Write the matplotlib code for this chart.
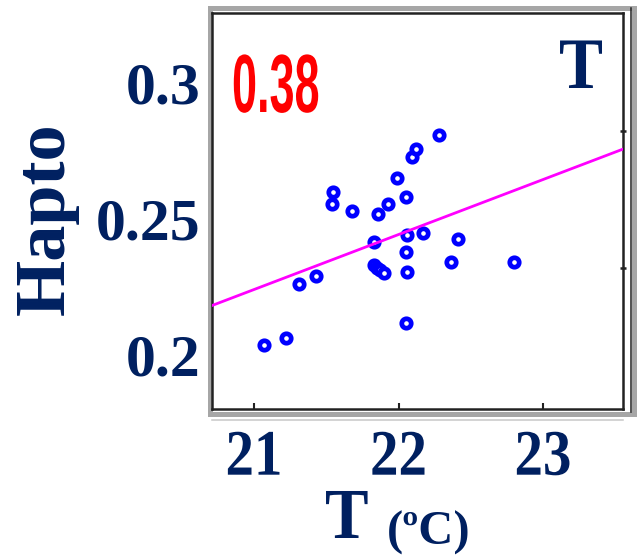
import matplotlib
matplotlib.use("Agg")
import matplotlib.pyplot as plt
import matplotlib.patheffects as pe
from matplotlib.transforms import Affine2D
from matplotlib.patches import Rectangle
from matplotlib.lines import Line2D
import numpy as np

# ---------------- data ----------------
temp = [21.07, 21.22, 21.31, 21.43, 21.54, 21.55, 21.68, 21.86, 21.93, 21.99,
        22.05, 22.09, 22.12, 22.28, 21.83, 22.06, 22.05, 22.17, 22.41, 22.36,
        22.80, 22.06, 22.05, 21.83, 21.85, 21.87, 21.90]
hapto = [0.2038, 0.2065, 0.2262, 0.2290, 0.2556, 0.2600, 0.2532, 0.2518, 0.2558, 0.2651,
         0.2583, 0.2730, 0.2760, 0.2810, 0.2415, 0.2442, 0.2381, 0.2449, 0.2426, 0.2344,
         0.2344, 0.2306, 0.2120, 0.2332, 0.2321, 0.2314, 0.2303]
fit_slope = 0.0202
fit_intercept = -0.2000
r_text = "0.38"
panel_text = "T"
x_ticks = [21, 22, 23]
x_tick_labels = ["21", "22", "23"]
y_ticks = [0.2, 0.25, 0.3]
y_tick_labels = ["0.2", "0.25", "0.3"]
right_ticks = [0.2321, 0.2825]
x_label = "T"
x_unit = "(ºC)"
y_label = "Hapto"

NAVY = "#002060"
SERIF = ["Liberation Serif", "DejaVu Serif"]
SANS = ["Liberation Sans", "DejaVu Sans"]

W, H = 641, 556


class Stretch(pe.AbstractPathEffect):
    """Draw the glyph outlines scaled about the text origin."""
    def __init__(self, sx=1.0, sy=1.0):
        super().__init__()
        self.sx, self.sy = sx, sy

    def draw_path(self, renderer, gc, tpath, affine, rgbFace=None):
        renderer.draw_path(gc, tpath, Affine2D().scale(self.sx, self.sy) + affine, rgbFace)


def fx(px):
    return px / W


def fy(py):
    return 1 - py / H


fig = plt.figure(figsize=(W / 100, H / 100), dpi=100)
fig.patch.set_facecolor("white")

# frame decorations around the plot box
fig.add_artist(Rectangle((fx(209.5), fy(414)), fx(634) - fx(209.5), fy(7.5) - fy(414),
                         transform=fig.transFigure, fill=False, edgecolor="#a6a6a6",
                         linewidth=3.6, zorder=1))
fig.add_artist(Line2D([fx(630.5), fx(630.5)], [fy(8), fy(412)], transform=fig.transFigure,
                      color="#222222", linewidth=1.1, zorder=2))
fig.add_artist(Line2D([fx(212), fx(623)], [fy(419.5), fy(419.5)], transform=fig.transFigure,
                      color="#c8c8c8", linewidth=1.1, zorder=2))

ax = fig.add_axes([fx(212), fy(409), fx(623) - fx(212), fy(13) - fy(409)])
ax.set_zorder(3)
ax.set_xlim(20.709, 23.554)
ax.set_ylim(0.1803, 0.3258)

ax.scatter(temp, hapto, s=46, facecolors="white", edgecolors="#0000ff",
           linewidths=3.4, zorder=2)
xs = np.array(ax.get_xlim())
ax.plot(xs, fit_slope * xs + fit_intercept, color="#ff00ff", linewidth=2.0, zorder=3)

for sp in ax.spines.values():
    sp.set_linewidth(1.8)
    sp.set_color("#222222")

ax.set_xticks(x_ticks)
ax.set_xticklabels(x_tick_labels, fontfamily=SERIF, fontweight="bold", fontsize=41, color=NAVY)
ax.tick_params(axis="x", direction="in", length=4, width=1.5, color="#222222", pad=18.5)
for t in ax.get_xticklabels():
    t.set_path_effects([Stretch(1.0, 1.14)])

ax.set_yticks(y_ticks)
ax.set_yticklabels(y_tick_labels, fontfamily=SERIF, fontweight="bold", fontsize=43, color=NAVY)
ax.tick_params(axis="y", direction="in", length=0, pad=8.5)

ax2 = ax.twinx()
ax2.set_ylim(ax.get_ylim())
ax2.set_yticks(right_ticks)
ax2.tick_params(axis="y", direction="inout", length=5, width=1.8, color="#222222", labelright=False)
for sp in ax2.spines.values():
    sp.set_visible(False)
ax2.set_zorder(4)

# in-panel texts
ax.text((232 - 212) / 411, (409 - 112) / 396, r_text, transform=ax.transAxes,
        ha="left", va="baseline", fontfamily=SANS, fontweight="bold", fontsize=36,
        color="#ff0000", path_effects=[Stretch(0.9, 1.65)])
ax.text((559 - 212) / 411, (409 - 88) / 396, panel_text, transform=ax.transAxes,
        ha="left", va="baseline", fontfamily=SERIF, fontweight="bold", fontsize=47.5,
        color=NAVY, path_effects=[Stretch(1.0, 1.1)])

# axis titles
fig.text(fx(325), fy(538), x_label, ha="left", va="baseline", fontfamily=SERIF,
         fontweight="bold", fontsize=47, color=NAVY, path_effects=[Stretch(1.0, 1.1)])
fig.text(fx(387), fy(545), x_unit, ha="left", va="baseline", fontfamily=SERIF,
         fontweight="bold", fontsize=35, color=NAVY)
fig.text(fx(46), fy(218.5), y_label, rotation=90, ha="center", va="center",
         fontfamily=SERIF, fontweight="bold", fontsize=52, color=NAVY)

fig.savefig("out.png", dpi=100, facecolor="white")
